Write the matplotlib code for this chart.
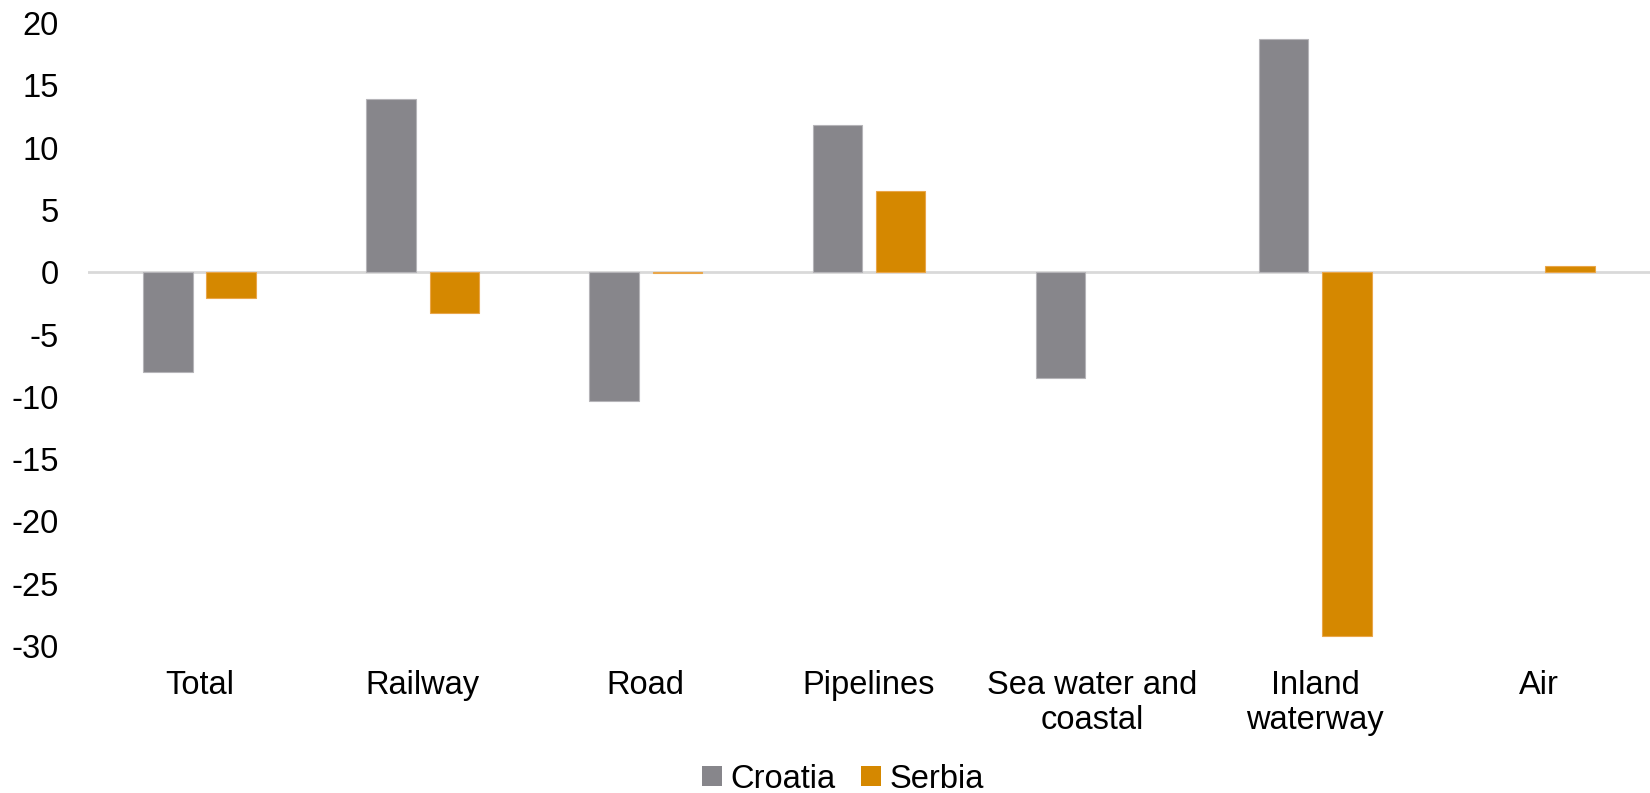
import numpy as np
import matplotlib
matplotlib.use("Agg")
import matplotlib.pyplot as plt
from matplotlib.patches import Patch

categories = ["Total", "Railway", "Road", "Pipelines", "Sea water and\ncoastal",
              "Inland\nwaterway", "Air"]
croatia = [-8.0, 13.9, -10.3, 11.8, -8.5, 18.7, 0.0]
serbia = [-2.1, -3.3, -0.1, 6.5, 0.0, -29.2, 0.5]
yticks = [20, 15, 10, 5, 0, -5, -10, -15, -20, -25, -30]

gray = "#87868B"
orange = "#D58800"
fs = 23.5

plt.rcParams["font.family"] = ["Liberation Sans", "DejaVu Sans"]

fig = plt.figure(figsize=(16.5, 7.93), dpi=100)
ax = fig.add_axes([88 / 1650, 1 - 646 / 793, 1 - 88 / 1650, (646 - 23) / 793])

x = np.arange(len(categories))
w = 0.222
off = 0.142
ax.bar(x - off, croatia, w, color=gray, edgecolor="#B5B4B8",
       linewidth=[0.8 if v != 0 else 0 for v in croatia], zorder=3)
ax.bar(x + off, serbia, w, color=orange, edgecolor="#E9A64A",
       linewidth=[0.8 if v != 0 else 0 for v in serbia], zorder=3)

ax.axhline(0, color="#D9D9D9", linewidth=2, zorder=2)
ax.set_xlim(-0.5, len(categories) - 0.5)
ax.set_ylim(-30, 20)
ax.set_yticks(yticks)
ax.set_yticklabels([str(t) for t in yticks], fontsize=fs)
ax.tick_params(axis="y", length=0, pad=21)
ax.set_xticks(x)
ax.set_xticklabels(categories, fontsize=fs, linespacing=1.2)
ax.tick_params(axis="x", length=0, pad=17)
for s in ax.spines.values():
    s.set_visible(False)

handles = [Patch(facecolor=gray, edgecolor="none", label="Croatia"),
           Patch(facecolor=orange, edgecolor="none", label="Serbia")]
fig.legend(handles=handles, loc="center", bbox_to_anchor=(843 / 1650, 1 - 779 / 793),
           ncol=2, frameon=False, fontsize=fs, handlelength=0.6, handleheight=0.6,
           handletextpad=0.25, columnspacing=0.8)

fig.savefig("out.png", dpi=100, facecolor="white")
